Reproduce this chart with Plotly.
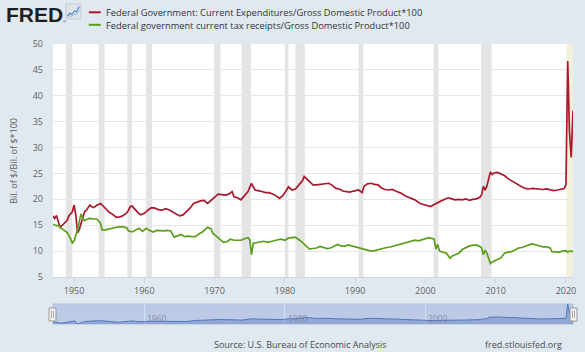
import plotly.graph_objects as go

# ---------------- data ----------------
exp_dates = [
    "1947-01-01", "1947-04-01", "1947-07-01", "1947-10-01", "1948-01-01", "1948-04-01", "1948-07-01", "1948-10-01",
    "1949-01-01", "1949-04-01", "1949-07-01", "1949-10-01", "1950-01-01", "1950-04-01", "1950-07-01", "1950-10-01",
    "1951-01-01", "1951-04-01", "1951-07-01", "1951-10-01", "1952-01-01", "1952-04-01", "1952-07-01", "1952-10-01",
    "1953-01-01", "1953-04-01", "1953-07-01", "1953-10-01", "1954-01-01", "1954-04-01", "1954-07-01", "1954-10-01",
    "1955-01-01", "1955-07-01", "1956-01-01", "1956-07-01", "1956-10-01", "1957-04-01", "1957-07-01", "1957-10-01",
    "1958-01-01", "1958-04-01", "1958-07-01", "1958-10-01", "1959-04-01", "1959-07-01", "1960-01-01", "1960-07-01",
    "1961-01-01", "1961-07-01", "1962-01-01", "1962-07-01", "1963-01-01", "1963-07-01", "1964-01-01", "1964-07-01",
    "1965-01-01", "1965-07-01", "1966-01-01", "1966-07-01", "1967-01-01", "1967-07-01", "1968-01-01", "1968-07-01",
    "1969-01-01", "1969-07-01", "1970-01-01", "1970-07-01", "1971-01-01", "1971-07-01", "1972-01-01", "1972-07-01",
    "1972-10-01", "1973-04-01", "1973-10-01", "1974-04-01", "1974-10-01", "1975-04-01", "1975-07-01", "1975-10-01",
    "1976-07-01", "1977-04-01", "1977-10-01", "1978-07-01", "1979-04-01", "1979-10-01", "1980-04-01", "1980-07-01",
    "1981-01-01", "1981-07-01", "1982-01-01", "1982-07-01", "1982-10-01", "1983-04-01", "1983-10-01", "1984-01-01",
    "1984-07-01", "1985-01-01", "1985-07-01", "1986-04-01", "1986-10-01", "1987-04-01", "1987-10-01", "1988-04-01",
    "1988-10-01", "1989-04-01", "1989-10-01", "1990-04-01", "1990-07-01", "1991-01-01", "1991-04-01", "1991-10-01",
    "1992-04-01", "1992-10-01", "1993-04-01", "1993-10-01", "1994-04-01", "1994-10-01", "1995-04-01", "1995-10-01",
    "1996-07-01", "1997-04-01", "1997-10-01", "1998-07-01", "1999-04-01", "1999-10-01", "2000-04-01", "2000-10-01",
    "2001-04-01", "2001-10-01", "2002-04-01", "2002-10-01", "2003-04-01", "2003-10-01", "2004-04-01", "2004-10-01",
    "2005-04-01", "2005-10-01", "2006-04-01", "2006-10-01", "2007-04-01", "2007-10-01", "2008-01-01", "2008-04-01",
    "2008-07-01", "2008-10-01", "2009-01-01", "2009-04-01", "2009-07-01", "2009-10-01", "2010-04-01", "2010-10-01",
    "2011-04-01", "2011-10-01", "2012-04-01", "2012-10-01", "2013-04-01", "2013-10-01", "2014-04-01", "2014-10-01",
    "2015-04-01", "2015-10-01", "2016-04-01", "2016-10-01", "2017-04-01", "2017-10-01", "2018-04-01", "2018-10-01",
    "2019-04-01", "2019-10-01", "2020-01-01", "2020-04-01", "2020-07-01", "2020-10-01", "2021-01-01",
]
exp_values = [
    16.8, 16.3, 16.9, 15.8, 14.6, 14.9, 15.3, 15.7,
    15.9, 16.8, 17.2, 17.6, 18.9, 17.0, 13.5, 14.2,
    15.4, 16.6, 17.6, 17.9, 18.3, 18.9, 18.6, 18.4,
    18.6, 18.9, 19.0, 19.2, 18.9, 18.6, 18.3, 17.8,
    17.5, 17.1, 16.5, 16.6, 16.7, 17.1, 17.4, 17.9,
    18.6, 18.7, 18.3, 18.0, 17.2, 17.0, 17.3, 17.9,
    18.4, 18.3, 18.0, 17.9, 18.2, 18.0, 17.6, 17.2,
    16.8, 17.0, 17.6, 18.3, 19.2, 19.5, 19.7, 19.8,
    19.2, 19.8, 20.5, 21.0, 20.9, 20.8, 21.0, 21.5,
    20.5, 20.3, 19.9, 20.6, 21.5, 23.1, 22.3, 21.8,
    21.6, 21.3, 21.3, 20.9, 20.2, 20.8, 21.8, 22.4,
    21.8, 22.0, 22.8, 23.6, 24.4, 23.7, 23.2, 22.8,
    22.8, 22.9, 23.0, 23.1, 22.7, 22.1, 22.0, 21.6,
    21.5, 21.4, 21.6, 21.7, 21.8, 21.3, 22.5, 23.0,
    23.1, 22.9, 22.8, 22.2, 21.9, 21.8, 21.9, 21.6,
    21.2, 20.6, 20.3, 19.9, 19.2, 19.0, 18.7, 18.6,
    19.0, 19.4, 19.7, 20.0, 20.3, 20.1, 19.9, 20.0,
    19.9, 20.1, 19.8, 20.0, 20.1, 20.4, 20.9, 22.5,
    21.8, 22.6, 24.0, 25.3, 24.8, 25.1, 25.2, 24.9,
    24.6, 24.0, 23.6, 23.2, 22.7, 22.4, 22.1, 22.0,
    22.1, 22.0, 22.0, 21.9, 22.0, 21.8, 21.7, 21.8,
    22.0, 22.1, 22.8, 46.7, 33.0, 28.1, 37.1,
]

tax_dates = [
    "1947-01-01", "1947-07-01", "1947-10-01", "1948-01-01", "1948-07-01", "1949-01-01", "1949-04-01", "1949-07-01",
    "1949-10-01", "1950-01-01", "1950-04-01", "1950-07-01", "1950-10-01", "1951-01-01", "1951-04-01", "1951-07-01",
    "1951-10-01", "1952-04-01", "1952-10-01", "1953-04-01", "1953-10-01", "1954-01-01", "1954-07-01", "1955-01-01",
    "1955-07-01", "1956-01-01", "1956-07-01", "1957-01-01", "1957-07-01", "1957-10-01", "1958-04-01", "1958-10-01",
    "1959-04-01", "1959-10-01", "1960-04-01", "1960-10-01", "1961-04-01", "1961-10-01", "1962-04-01", "1962-10-01",
    "1963-04-01", "1963-10-01", "1964-04-01", "1964-10-01", "1965-04-01", "1965-10-01", "1966-04-01", "1966-10-01",
    "1967-04-01", "1967-10-01", "1968-04-01", "1968-10-01", "1969-01-01", "1969-07-01", "1969-10-01", "1970-04-01",
    "1970-10-01", "1971-04-01", "1971-10-01", "1972-04-01", "1972-10-01", "1973-04-01", "1973-10-01", "1974-04-01",
    "1974-10-01", "1975-01-01", "1975-04-01", "1975-07-01", "1976-01-01", "1976-07-01", "1977-01-01", "1977-07-01",
    "1978-01-01", "1978-07-01", "1979-01-01", "1979-07-01", "1980-01-01", "1980-07-01", "1981-01-01", "1981-07-01",
    "1982-01-01", "1982-07-01", "1983-01-01", "1983-07-01", "1984-01-01", "1984-07-01", "1985-01-01", "1985-07-01",
    "1986-01-01", "1986-07-01", "1987-01-01", "1987-07-01", "1988-01-01", "1988-07-01", "1989-01-01", "1989-07-01",
    "1990-01-01", "1990-07-01", "1991-01-01", "1991-07-01", "1992-01-01", "1992-07-01", "1993-01-01", "1993-07-01",
    "1994-01-01", "1994-07-01", "1995-01-01", "1995-07-01", "1996-01-01", "1996-07-01", "1997-01-01", "1997-07-01",
    "1998-01-01", "1998-07-01", "1999-01-01", "1999-07-01", "2000-01-01", "2000-07-01", "2001-01-01", "2001-04-01",
    "2001-07-01", "2001-10-01", "2002-01-01", "2002-07-01", "2003-01-01", "2003-07-01", "2003-10-01", "2004-04-01",
    "2004-10-01", "2005-04-01", "2005-10-01", "2006-04-01", "2006-10-01", "2007-04-01", "2007-10-01", "2008-01-01",
    "2008-04-01", "2008-07-01", "2008-10-01", "2009-01-01", "2009-04-01", "2009-07-01", "2009-10-01", "2010-04-01",
    "2010-10-01", "2011-04-01", "2011-10-01", "2012-04-01", "2012-10-01", "2013-04-01", "2013-10-01", "2014-04-01",
    "2014-10-01", "2015-04-01", "2015-10-01", "2016-04-01", "2016-10-01", "2017-04-01", "2017-10-01", "2018-01-01",
    "2018-07-01", "2019-01-01", "2019-07-01", "2020-01-01", "2020-04-01", "2020-07-01", "2020-10-01", "2021-01-01",
]
tax_values = [
    15.2, 14.9, 15.0, 14.6, 14.1, 13.6, 13.1, 12.3,
    11.6, 12.0, 12.9, 14.1, 15.8, 17.2, 16.3, 15.9,
    16.1, 16.3, 16.2, 16.2, 15.4, 14.1, 14.1, 14.3,
    14.4, 14.6, 14.7, 14.7, 14.5, 13.9, 13.7, 14.0,
    14.4, 13.8, 14.4, 14.0, 13.7, 14.0, 13.9, 13.9,
    14.0, 13.9, 12.7, 13.0, 13.2, 12.8, 12.9, 12.8,
    12.8, 13.3, 13.7, 14.3, 14.6, 14.3, 13.4, 12.9,
    12.3, 11.7, 11.8, 12.3, 12.1, 12.1, 12.1, 12.4,
    12.6, 12.2, 9.3, 11.5, 11.6, 11.8, 11.9, 11.7,
    11.8, 12.0, 12.2, 12.3, 12.1, 12.5, 12.6, 12.7,
    12.2, 11.7, 11.0, 10.4, 10.5, 10.6, 10.9, 10.7,
    10.5, 10.6, 10.9, 11.3, 11.0, 10.9, 11.2, 11.0,
    10.8, 10.7, 10.4, 10.3, 10.1, 10.0, 10.2, 10.4,
    10.5, 10.7, 10.8, 11.0, 11.1, 11.4, 11.6, 11.8,
    12.0, 12.1, 12.0, 12.2, 12.4, 12.6, 12.4, 12.3,
    10.4, 11.3, 10.0, 9.8, 9.6, 8.6, 9.0, 9.3,
    9.6, 10.3, 10.6, 11.0, 11.1, 11.2, 10.9, 10.6,
    9.3, 10.2, 9.6, 8.4, 7.6, 7.9, 8.1, 8.4,
    8.7, 9.6, 9.8, 9.9, 10.2, 10.6, 10.7, 11.0,
    11.2, 11.4, 11.2, 10.9, 10.8, 10.8, 10.6, 9.9,
    9.8, 9.8, 10.0, 10.1, 9.8, 10.0, 10.0, 9.9,
]

rec_start = ["1948-11-01", "1953-07-01", "1957-08-01", "1960-04-01", "1969-12-01", "1973-11-01",
             "1980-01-01", "1981-07-01", "1990-07-01", "2001-03-01", "2007-12-01"]
rec_end = ["1949-10-01", "1954-05-01", "1958-04-01", "1961-02-01", "1970-11-01", "1975-03-01",
           "1980-07-01", "1982-11-01", "1991-03-01", "2001-11-01", "2009-06-01"]
latest_start = "2020-02-01"

x_ticks = ["1950", "1960", "1970", "1980", "1990", "2000", "2010", "2020"]
y_ticks = [5, 10, 15, 20, 25, 30, 35, 40, 45, 50]
nav_ticks = ["1960", "1980", "2000"]

exp_name = "Federal Government: Current Expenditures/Gross Domestic Product*100"
tax_name = "Federal government current tax receipts/Gross Domestic Product*100"
y_title = "Bil. of $/Bil. of $*100"
source_text = "Source: U.S. Bureau of Economic Analysis"
site_text = "fred.stlouisfed.org"

# ---------------- styling / layout ----------------
W, H = 585, 352
L, R, T, B = 53, 9, 44, 28
PW, PH = W - L - R, H - T - B


def px_x(p):
    return (p - L) / PW


def px_y(p):
    return (H - B - p) / PH


RED = "#a9182c"
GREEN = "#5c9e1b"
BG = "#e1e9f0"
FONT = "Open Sans"
TXT = "#333333"
TICK = "#5f5f5f"

fig = go.Figure()
fig.add_trace(go.Scatter(x=exp_dates, y=exp_values, mode="lines", name=exp_name,
                         line=dict(color=RED, width=1.7), showlegend=False, hoverinfo="skip"))
fig.add_trace(go.Scatter(x=tax_dates, y=tax_values, mode="lines", name=tax_name,
                         line=dict(color=GREEN, width=1.7), showlegend=False, hoverinfo="skip"))
# navigator series
fig.add_trace(go.Scatter(x=exp_dates, y=exp_values, mode="lines", fill="tozeroy",
                         fillcolor="rgba(70,105,180,0.35)", line=dict(color="#5177bf", width=1),
                         xaxis="x2", yaxis="y2", showlegend=False, hoverinfo="skip"))

shapes = []
for s, e in zip(rec_start, rec_end):
    shapes.append(dict(type="rect", xref="x", yref="y domain", x0=s, x1=e, y0=0, y1=1,
                       fillcolor="#e4e4e4", line=dict(width=0), layer="below"))
shapes.append(dict(type="rect", xref="x", yref="y domain", x0=latest_start, x1=exp_dates[-1], y0=0, y1=1,
                   fillcolor="#f2f0d8", line=dict(width=0), layer="below"))
# navigator background
shapes.append(dict(type="rect", xref="x2 domain", yref="y2 domain", x0=0, x1=1, y0=0, y1=1,
                   fillcolor="#bccae6", line=dict(color="#b0bfdc", width=1), layer="below"))
# navigator handles
for hx in (52.5, 576.5):
    shapes.append(dict(type="rect", xref="paper", yref="paper",
                       x0=px_x(hx - 3.5), x1=px_x(hx + 3.5), y0=px_y(321), y1=px_y(308),
                       fillcolor="#f2f2f2", line=dict(color="#999999", width=1), layer="above"))
    for dx in (-1, 1):
        shapes.append(dict(type="line", xref="paper", yref="paper",
                           x0=px_x(hx + dx), x1=px_x(hx + dx), y0=px_y(318), y1=px_y(311),
                           line=dict(color="#999999", width=0.8), layer="above"))
# legend swatches
for yy, col in ((12.3, RED), (24.8, GREEN)):
    shapes.append(dict(type="line", xref="paper", yref="paper", x0=px_x(89), x1=px_x(101),
                       y0=px_y(yy), y1=px_y(yy), line=dict(color=col, width=2)))
# FRED logo icon
shapes.append(dict(type="rect", xref="paper", yref="paper", x0=px_x(66), x1=px_x(81),
                   y0=px_y(19), y1=px_y(4), fillcolor="#dfe4ea", line=dict(color="#c5ccd4", width=1)))
pts = [(67.5, 16), (70, 13), (72, 14.5), (74.5, 11), (76.5, 12), (79.5, 6.5)]
path = "M " + " L ".join(f"{px_x(a):.5f},{px_y(b):.5f}" for a, b in pts)
shapes.append(dict(type="path", xref="paper", yref="paper", path=path,
                   line=dict(color="#4f86d0", width=1.2)))
pts2 = [(67.5, 17.5), (70, 15.5), (72, 16.5), (74.5, 14), (76.5, 15), (79.5, 10)]
path2 = "M " + " L ".join(f"{px_x(a):.5f},{px_y(b):.5f}" for a, b in pts2)
shapes.append(dict(type="path", xref="paper", yref="paper", path=path2,
                   line=dict(color="#9bbbe0", width=1)))

ann = []
ann.append(dict(text="<b>FRED</b>", x=px_x(4), y=px_y(14.5), xref="paper", yref="paper",
                xanchor="left", yanchor="middle", showarrow=False,
                font=dict(family="Liberation Sans", size=21, color="#1f1f1f")))
ann.append(dict(text="®", x=px_x(61), y=px_y(21), xref="paper", yref="paper",
                xanchor="left", yanchor="middle", showarrow=False,
                font=dict(family="Liberation Sans", size=4, color="#1f1f1f")))
ann.append(dict(text=exp_name, x=px_x(104), y=px_y(12.5), xref="paper", yref="paper",
                xanchor="left", yanchor="middle", showarrow=False,
                font=dict(family=FONT, size=9.3, color=TXT)))
ann.append(dict(text=tax_name, x=px_x(104), y=px_y(25), xref="paper", yref="paper",
                xanchor="left", yanchor="middle", showarrow=False,
                font=dict(family=FONT, size=9.3, color=TXT)))
ann.append(dict(text=y_title, x=px_x(13), y=px_y(160.5), xref="paper", yref="paper",
                xanchor="center", yanchor="middle", textangle=-90, showarrow=False,
                font=dict(family=FONT, size=9, color=TICK)))
ann.append(dict(text=source_text, x=px_x(302), y=px_y(344.5), xref="paper", yref="paper",
                xanchor="center", yanchor="middle", showarrow=False,
                font=dict(family=FONT, size=9, color="#4a4a4a")))
ann.append(dict(text=site_text, x=px_x(567), y=px_y(344.5), xref="paper", yref="paper",
                xanchor="right", yanchor="middle", showarrow=False,
                font=dict(family=FONT, size=9, color="#4a4a4a")))
for t in nav_ticks:
    ann.append(dict(text=t, x=f"{t}-01-01", y=px_y(318), xref="x2", yref="paper",
                    xanchor="left", yanchor="middle", xshift=1, showarrow=False,
                    font=dict(family=FONT, size=8.5, color="rgba(120,130,150,0.85)")))

nav_min = min(exp_values)
nav_max = max(exp_values)

fig.update_layout(
    width=W, height=H,
    margin=dict(l=L, r=R, t=T, b=B, pad=0),
    paper_bgcolor=BG, plot_bgcolor="white",
    font=dict(family=FONT, size=9, color=TICK),
    showlegend=False,
    xaxis=dict(domain=[0, 1], anchor="y", type="date", range=[exp_dates[0], exp_dates[-1]],
               tickvals=[f"{t}-01-01" for t in x_ticks], ticktext=x_ticks,
               showgrid=False, zeroline=False, showline=True, linecolor="#ccd6eb", linewidth=1,
               ticks="outside", ticklen=5, tickcolor="#ccd6eb",
               tickfont=dict(family=FONT, size=9, color=TICK)),
    yaxis=dict(domain=[px_y(277), 1], anchor="x", range=[5, 50], tickvals=y_ticks,
               showgrid=True, gridcolor="#e6e6e6", gridwidth=1, zeroline=False, showline=False,
               ticks="", ticklabelstandoff=9,
               tickfont=dict(family=FONT, size=9, color=TICK)),
    xaxis2=dict(domain=[0, 1], anchor="y2", type="date", range=[exp_dates[0], exp_dates[-1]],
                tickvals=[f"{t}-01-01" for t in nav_ticks], showticklabels=False,
                showgrid=True, gridcolor="rgba(225,232,245,0.7)", zeroline=False, showline=False, ticks=""),
    yaxis2=dict(domain=[0, px_y(304)], anchor="x2", range=[nav_min, nav_max],
                visible=False, showgrid=False, zeroline=False),
    shapes=shapes,
    annotations=ann,
)

fig.write_html("out.html")
